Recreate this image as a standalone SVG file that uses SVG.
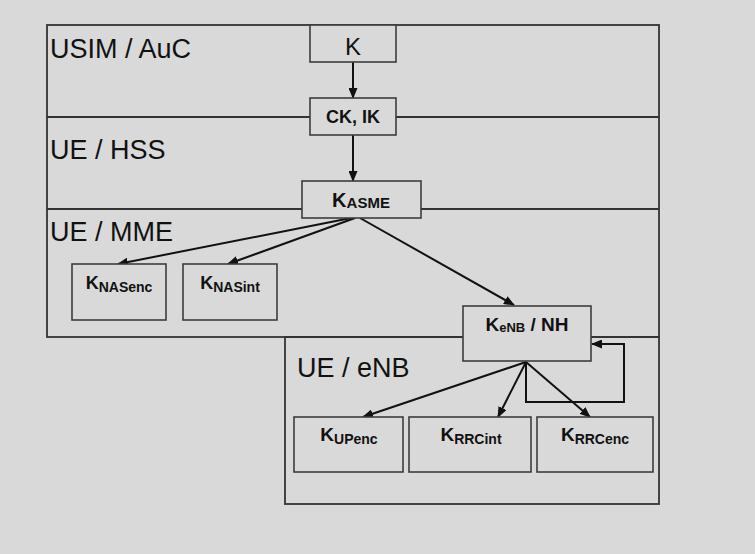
<svg xmlns="http://www.w3.org/2000/svg" width="755" height="554" viewBox="0 0 755 554">
  <defs>
    <style>
      .frame { fill: none; stroke: #333; stroke-width: 1.8; }
      .box { fill: #d9d9d9; stroke: #3c3c3c; stroke-width: 1.6; }
      .lane { font-family: "Liberation Sans", Arial, sans-serif; font-size: 27px; fill: #111; }
      .lbl { font-family: "Liberation Sans", Arial, sans-serif; font-weight: bold; fill: #111; text-anchor: middle; }
      .conn { fill: none; stroke: #111; stroke-width: 2; marker-end: url(#arrow); }
    </style>
    <marker id="arrow" markerUnits="userSpaceOnUse" markerWidth="11" markerHeight="9" refX="10" refY="4.5" orient="auto">
      <path d="M0,0 L11,4.5 L0,9 z" fill="#111"/>
    </marker>
  </defs>
  <rect x="0" y="0" width="755" height="554" fill="#d9d9d9"/>

  <g id="lanes">
    <rect class="frame" x="47" y="25" width="612" height="312"/>
    <line class="frame" x1="47" y1="117" x2="659" y2="117"/>
    <line class="frame" x1="47" y1="209" x2="659" y2="209"/>
    <rect class="frame" x="285" y="337" width="374" height="167"/>
    <text class="lane" x="50" y="58">USIM / AuC</text>
    <text class="lane" x="50" y="159">UE / HSS</text>
    <text class="lane" x="50" y="241">UE / MME</text>
    <text class="lane" x="297" y="377">UE / eNB</text>
  </g>

  <g id="connectors">
    <line class="conn" x1="353" y1="62" x2="353" y2="98"/>
    <line class="conn" x1="353" y1="135" x2="353" y2="181"/>
    <line class="conn" x1="351" y1="218" x2="118" y2="264"/>
    <line class="conn" x1="355" y1="218" x2="228" y2="264"/>
    <line class="conn" x1="360" y1="218" x2="514" y2="305"/>
    <line class="conn" x1="526" y1="362" x2="363" y2="417"/>
    <line class="conn" x1="526" y1="362" x2="498" y2="417"/>
    <line class="conn" x1="526" y1="362" x2="590" y2="417"/>
    <polyline class="conn" points="526,362 526,402 624,402 624,344 592,344"/>
  </g>

  <g id="node-K">
    <rect class="box" x="310" y="25" width="86" height="37"/>
    <text x="353" y="55" font-family="Liberation Sans, Arial, sans-serif" font-size="24" fill="#111" text-anchor="middle">K</text>
  </g>
  <g id="node-CKIK">
    <rect class="box" x="310" y="98" width="86" height="37"/>
    <text class="lbl" x="353" y="123" font-size="18">CK, IK</text>
  </g>
  <g id="node-KASME">
    <rect class="box" x="302" y="181" width="119" height="37"/>
    <text class="lbl" x="361" y="207" font-size="20">K<tspan font-size="15" dy="1">ASME</tspan></text>
  </g>
  <g id="node-KNASenc">
    <rect class="box" x="72" y="264" width="94" height="56"/>
    <text class="lbl" x="119" y="289" font-size="18">K<tspan font-size="14" dy="3">NASenc</tspan></text>
  </g>
  <g id="node-KNASint">
    <rect class="box" x="183" y="264" width="94" height="56"/>
    <text class="lbl" x="230" y="289" font-size="18">K<tspan font-size="14" dy="3">NASint</tspan></text>
  </g>
  <g id="node-KeNB">
    <rect class="box" x="463" y="306" width="128" height="55"/>
    <text class="lbl" x="527" y="331" font-size="19">K<tspan font-size="13" dy="1">eNB</tspan><tspan dy="-1"> / NH</tspan></text>
  </g>
  <g id="node-KUPenc">
    <rect class="box" x="294" y="417" width="109" height="55"/>
    <text class="lbl" x="349" y="441" font-size="19">K<tspan font-size="14" dy="3">UPenc</tspan></text>
  </g>
  <g id="node-KRRCint">
    <rect class="box" x="409" y="417" width="122" height="55"/>
    <text class="lbl" x="471" y="441" font-size="19">K<tspan font-size="14" dy="3">RRCint</tspan></text>
  </g>
  <g id="node-KRRCenc">
    <rect class="box" x="537" y="417" width="116" height="55"/>
    <text class="lbl" x="595" y="441" font-size="19">K<tspan font-size="14" dy="3">RRCenc</tspan></text>
  </g>
</svg>
